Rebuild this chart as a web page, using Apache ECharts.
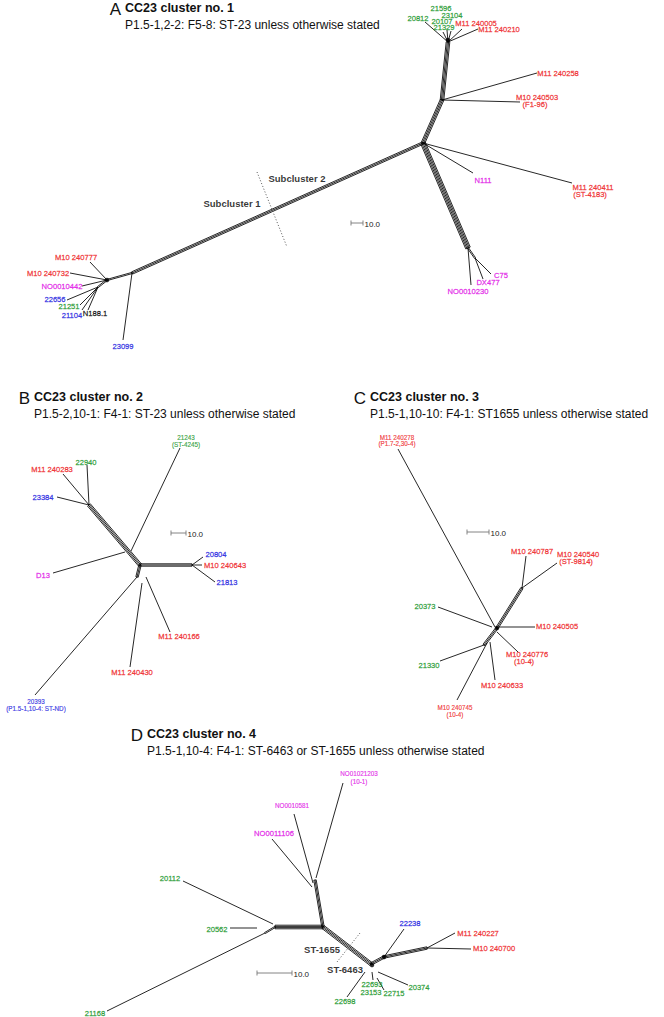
<!DOCTYPE html>
<html>
<head>
<meta charset="utf-8">
<script src="https://cdn.jsdelivr.net/npm/echarts@6/dist/echarts.min.js"></script>
<style>html,body{margin:0;padding:0;background:#fff}#c{width:664px;height:1017px}</style>
</head>
<body>
<div id="c"></div>
<script>
// ---------- DATA (layout units of the splits-network drawing) ----------
const panelLetters = ['A', 'B', 'C', 'D'];
const panelTitles = ['CC23 cluster no. 1', 'CC23 cluster no. 2', 'CC23 cluster no. 3', 'CC23 cluster no. 4'];
const panelSubtitles = [
  'P1.5-1,2-2: F5-8: ST-23 unless otherwise stated',
  'P1.5-2,10-1: F4-1: ST-23 unless otherwise stated',
  'P1.5-1,10-10: F4-1: ST1655 unless otherwise stated',
  'P1.5-1,10-4: F4-1: ST-6463 or ST-1655 unless otherwise stated'
];
const panelAnchors = [[125, 8], [34, 397], [370, 397], [147, 734]];

// internal nodes
const A = { top: [448, 42], mid: [442, 100], hub: [423, 143], low: [468, 248], low2: [475, 258], ll1: [132, 273], ll2: [107, 280], ll3: [98, 287] };
const B = { top: [89, 505], hub: [140, 565], right: [192, 565], k1: [131, 551], k2: [137, 577] };
const C = { top: [522, 588], hub: [497, 628], low: [484, 645] };
const D = { top: [315, 880], hub: [323, 927], left: [275, 927], left2: [265, 933], st: [371, 964], k: [384, 957], right: [427, 948] };

// edges: [from, to, number of parallel splits]
const edgesA = [
  [A.top, A.mid, 4], [A.mid, A.hub, 4], [A.hub, A.low, 5], [A.low, A.low2, 2], [A.hub, A.ll1, 3], [A.ll1, A.ll2, 2], [A.ll2, A.ll3, 2],
  [A.top, [425, 22], 1], [A.top, [443, 32], 1], [A.top, [447, 30], 1], [A.top, [451, 31], 1], [A.top, [462, 29], 1], [A.top, [478, 29], 1],
  [A.mid, [537, 73], 1], [A.mid, [520, 102], 1], [A.hub, [473, 173], 1], [A.hub, [572, 183], 1],
  [A.low, [471, 285], 1], [A.low2, [483, 279], 1], [A.low2, [491, 274], 1],
  [A.ll2, [90, 262], 1], [A.ll2, [70, 273], 1], [A.ll2, [82, 286], 1],
  [A.ll3, [67, 300], 1], [A.ll3, [80, 305], 1], [A.ll3, [82, 310], 1], [A.ll3, [88, 310], 1], [A.ll1, [123, 340], 1]
];
const edgesB = [
  [B.top, B.hub, 4], [B.hub, B.right, 3], [B.hub, B.k2, 3],
  [[180, 448], B.k1, 1], [[87, 465], B.top, 1], [[63, 474], B.top, 1], [[57, 497], B.top, 1], [[53, 573], [125, 552], 1],
  [[203, 557], B.right, 1], [[202, 565], B.right, 1], [[215, 582], B.right, 1],
  [[170, 632], [146, 577], 1], [[130, 667], [142, 583], 1], [[35, 695], B.k2, 1]
];
const edgesC = [
  [C.top, C.hub, 3], [C.hub, C.low, 3],
  [[398, 449], [495, 627], 1], [[526, 556], C.top, 1], [[557, 563], C.top, 1], [[438, 607], [492, 627], 1],
  [[535, 627], [499, 627], 1], [[518, 652], [497, 632], 1], [[495, 680], [490, 642], 1], [[440, 661], C.low, 1], [[457, 700], [487, 643], 1]
];
const edgesD = [
  [D.top, D.hub, 3], [D.hub, D.left, 4], [D.left, D.left2, 2], [D.hub, D.st, 4], [D.st, D.k, 3], [D.k, D.right, 3],
  [[343, 783], [316, 878], 1], [[294, 814], [313, 883], 1], [[272, 839], [312, 887], 1],
  [[183, 881], [273, 924], 1], [[230, 928], [257, 928], 1], [[107, 1011], D.left2, 1],
  [[404, 929], D.k, 1], [[455, 933], D.right, 1], [[471, 949], D.right, 1],
  [[408, 985], [378, 972], 1], [[384, 990], [377, 978], 1], [[373, 980], [372, 972], 1], [[347, 997], [365, 972], 1]
];

// leaf labels: [text, x, y, source group, variant]
const labelsA = [
  ['21596', 441, 8, 'g'], ['23104', 452, 15, 'g'], ['20812', 418, 18, 'g'], ['20107', 442, 21, 'g'], ['21329', 444, 27.5, 'g'],
  ['M11 240005', 476, 23, 'r'], ['M11 240210', 499, 29, 'r'], ['M11 240258', 558, 73, 'r'],
  ['M10 240503', 537, 97, 'r'], ['(F1-96)', 535, 104, 'r'], ['N111', 483, 180, 'm'],
  ['M11 240411', 593, 187, 'r'], ['(ST-4183)', 590, 194, 'r'],
  ['C75', 501, 275, 'm'], ['DX477', 488, 282, 'm'], ['NO0010230', 468, 291, 'm'],
  ['M10 240777', 76, 257, 'r'], ['M10 240732', 48, 273, 'r'], ['NO0010442', 62, 286, 'm'], ['22656', 55, 299, 'b'],
  ['21251', 69, 306, 'g'], ['21104', 72, 315, 'b'], ['N188.1', 95, 313, 'k'], ['23099', 123, 346, 'b']
];
const labelsB = [
  ['21243', 186, 437, 'g', 's'], ['(ST-4245)', 186, 444, 'g', 's'], ['22940', 86, 462, 'g'], ['M11 240283', 52, 469, 'r'],
  ['23384', 43, 497, 'b'], ['D13', 43, 575, 'm'], ['20804', 216, 554, 'b'], ['M10 240643', 225, 565, 'r'], ['21813', 227, 582, 'b'],
  ['M11 240166', 179, 636, 'r'], ['M11 240430', 132, 672, 'r'], ['20393', 36, 701, 'b', 's'], ['(P1.5-1,10-4: ST-ND)', 36, 708, 'b', 's']
];
const labelsC = [
  ['M11 240278', 397, 437, 'r', 's'], ['(P1.7-2,30-4)', 397, 443, 'r', 's'],
  ['M10 240787', 532, 551, 'r'], ['M10 240540', 578, 554, 'r'], ['(ST-9814)', 576, 561, 'r'], ['20373', 425, 606, 'g'],
  ['M10 240505', 557, 626, 'r'], ['M10 240776', 527, 654, 'r'], ['(10-4)', 524, 661, 'r'], ['M10 240633', 502, 685, 'r'],
  ['21330', 429, 665, 'g'], ['M10 240745', 455, 707, 'r', 's'], ['(10-4)', 455, 714, 'r', 's']
];
const labelsD = [
  ['NO01021203', 359, 773, 'm', 's'], ['(10-1)', 359, 781, 'm', 's'], ['NO0010581', 292, 805, 'm', 's'], ['NO0011106', 274, 833, 'm'],
  ['20112', 170, 878, 'g'], ['20562', 217, 929, 'g'], ['21168', 95, 1013, 'g'],
  ['22238', 410, 923, 'b'], ['M11 240227', 478, 933, 'r'], ['M10 240700', 494, 948, 'r'], ['20374', 419, 987, 'g'],
  ['22715', 394, 993, 'g'], ['22693', 372, 984, 'g'], ['23153', 371, 992, 'g'], ['22698', 345, 1001, 'g']
];
const groupLabels = [
  ['Subcluster 1', 232, 203], ['Subcluster 2', 297, 178], ['ST-1655', 322, 949], ['ST-6463', 345, 969]
];
const dividers = [[[257, 172], [287, 247]], [[360, 933], [337, 962]]];
const scaleBars = [[351, 363, 223], [171, 186, 533], [467, 489, 532], [257, 292, 973]];
const scaleText = '10.0';
const knots = [[448, 40], [107, 280], [372, 965], [384, 957], [497, 628]];

// ---------- CHART ----------
const FONT = '"Liberation Sans", Arial, Helvetica, sans-serif';
const COLORS = { r: '#ee1c24', g: '#18962a', b: '#2020e0', m: '#e010e6', k: '#000000' };

const edgeData = [].concat(edgesA, edgesB, edgesC, edgesD).map(e => [e[0][0], e[0][1], e[1][0], e[1][1], e[2]]);
const labelData = [].concat(labelsA, labelsB, labelsC, labelsD).map(l => ({
  name: l[0], value: [l[1], l[2]],
  label: {
    color: COLORS[l[3]], fontSize: l[4] === 's' ? 6.3 : 7.6,
    textBorderColor: COLORS[l[3]], textBorderWidth: l[4] === 's' ? 0.2 : 0.3
  }
}));

const graphic = [];
panelLetters.forEach((letter, i) => {
  const [x, y] = panelAnchors[i];
  graphic.push({ type: 'text', x: x - 4, y: y + 1, style: { text: letter, fill: '#111', font: '17px ' + FONT, align: 'right', verticalAlign: 'middle' } });
  graphic.push({ type: 'text', x: x, y: y, style: { text: panelTitles[i], fill: '#111', font: 'bold 12.5px ' + FONT, verticalAlign: 'middle' } });
  graphic.push({ type: 'text', x: x, y: y + 17, style: { text: panelSubtitles[i], fill: '#111', font: '12px ' + FONT, verticalAlign: 'middle' } });
});

const chart = echarts.init(document.getElementById('c'), null, { renderer: 'svg' });
chart.setOption({
  animation: false,
  backgroundColor: '#ffffff',
  grid: { left: 0, right: 0, top: 0, bottom: 0 },
  xAxis: { type: 'value', min: 0, max: 664, show: false },
  yAxis: { type: 'value', min: 0, max: 1017, inverse: true, show: false },
  graphic: graphic,
  series: [
    {
      type: 'custom', silent: true, data: edgeData, encode: { x: [0, 2], y: [1, 3] },
      renderItem: function (params, api) {
        const a = api.coord([api.value(0), api.value(1)]);
        const b = api.coord([api.value(2), api.value(3)]);
        const n = api.value(4);
        const dx = b[0] - a[0], dy = b[1] - a[1], L = Math.hypot(dx, dy) || 1;
        const nx = -dy / L, ny = dx / L, gap = 1.2;
        const children = [];
        for (let i = 0; i < n; i++) {
          const o = (i - (n - 1) / 2) * gap;
          children.push({ type: 'line', shape: { x1: a[0] + nx * o, y1: a[1] + ny * o, x2: b[0] + nx * o, y2: b[1] + ny * o }, style: { stroke: '#000', lineWidth: 0.85 } });
        }
        if (n > 1) {
          const h = (n - 1) / 2 * gap;
          [a, b].forEach(p => children.push({ type: 'line', shape: { x1: p[0] - nx * h, y1: p[1] - ny * h, x2: p[0] + nx * h, y2: p[1] + ny * h }, style: { stroke: '#000', lineWidth: 0.85 } }));
        }
        return { type: 'group', children };
      }
    },
    {
      type: 'custom', silent: true, data: scaleBars, encode: { x: [0, 1], y: 2 },
      renderItem: function (params, api) {
        const a = api.coord([api.value(0), api.value(2)]);
        const b = api.coord([api.value(1), api.value(2)]);
        const st = { stroke: '#777', lineWidth: 0.9 };
        return {
          type: 'group', children: [
            { type: 'line', shape: { x1: a[0], y1: a[1], x2: b[0], y2: b[1] }, style: st },
            { type: 'line', shape: { x1: a[0], y1: a[1] - 2.5, x2: a[0], y2: a[1] + 2.5 }, style: st },
            { type: 'line', shape: { x1: b[0], y1: b[1] - 2.5, x2: b[0], y2: b[1] + 2.5 }, style: st },
            { type: 'text', x: b[0] + 1.5, y: b[1] + 1.5, style: { text: scaleText, fill: '#222', font: '8px ' + FONT, verticalAlign: 'middle' } }
          ]
        };
      }
    },
    ...dividers.map(d => ({
      type: 'line', silent: true, data: d, symbol: 'none',
      lineStyle: { color: '#555', width: 1, type: [1, 2] }
    })),
    {
      type: 'scatter', silent: true, data: knots, symbolSize: 4.5, itemStyle: { color: '#000' }
    },
    {
      type: 'scatter', silent: true, data: labelData, symbolSize: 0.1, itemStyle: { color: 'rgba(0,0,0,0)' },
      label: { show: true, position: 'inside', formatter: '{b}', fontFamily: FONT }
    },
    {
      type: 'scatter', silent: true, data: groupLabels.map(g => ({ name: g[0], value: [g[1], g[2]] })),
      symbolSize: 0.1, itemStyle: { color: 'rgba(0,0,0,0)' },
      label: { show: true, position: 'inside', formatter: '{b}', fontFamily: FONT, fontWeight: 'bold', fontSize: 9.5, color: '#000', textBorderWidth: 0 }
    }
  ]
});
</script>
</body>
</html>
